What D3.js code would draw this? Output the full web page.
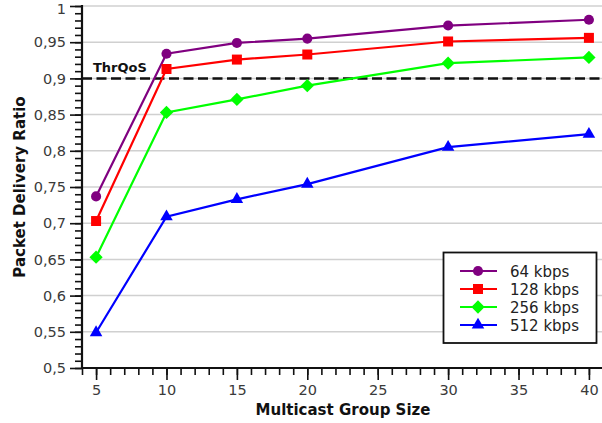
<!DOCTYPE html>
<html>
<head>
<meta charset="utf-8">
<script src="https://cdn.jsdelivr.net/npm/d3@7"></script>
<style>
  html, body { margin: 0; padding: 0; background: #fff; }
  svg { display: block; font-family: "DejaVu Sans", sans-serif; }
</style>
</head>
<body>
<svg id="chart" width="602" height="423"></svg>
<script>
// Multicast group sizes on the x axis
const groupSizes = [5, 10, 15, 20, 30, 40];

// Packet delivery ratio for each stream rate
const pdr64  = [0.737, 0.934, 0.949, 0.955, 0.973, 0.981];
const pdr128 = [0.703, 0.913, 0.926, 0.933, 0.951, 0.956];
const pdr256 = [0.653, 0.853, 0.871, 0.890, 0.921, 0.929];
const pdr512 = [0.549, 0.709, 0.733, 0.754, 0.805, 0.823];

const seriesNames = ["64 kbps", "128 kbps", "256 kbps", "512 kbps"];
const seriesColors = ["#800080", "#ff0000", "#00ff00", "#0000ff"];
const seriesSymbols = [d3.symbolCircle, d3.symbolSquare, d3.symbolSquare, d3.symbolTriangle];
const symbolSizes = [80, 100, 88, 68];
const symbolRotations = [0, 0, 45, 0];

const xTicks = [5, 10, 15, 20, 25, 30, 35, 40];
const yTicks = [0.5, 0.55, 0.6, 0.65, 0.7, 0.75, 0.8, 0.85, 0.9, 0.95, 1];
const thresholdValue = 0.9;
const thresholdLabel = "ThrQoS";

const series = [pdr64, pdr128, pdr256, pdr512].map((vals, i) => ({
  name: seriesNames[i],
  color: seriesColors[i],
  symbol: seriesSymbols[i],
  size: symbolSizes[i],
  rot: symbolRotations[i],
  points: groupSizes.map((g, j) => ({ x: g, y: vals[j] }))
}));

const svg = d3.select("#chart");
const plotLeft = 82, plotRight = 603, plotTop = 6, plotBottom = 368;

const x = d3.scaleLinear().domain([4, 41]).range([plotLeft, plotRight]);
const y = d3.scaleLinear().domain([0.5, 1]).range([plotBottom, plotTop]);

const fmt = v => String(+v.toFixed(2)).replace(".", ",");

// Horizontal grid lines
svg.append("g")
  .selectAll("line")
  .data(yTicks.filter(v => v > 0.5))
  .join("line")
  .attr("x1", plotLeft).attr("x2", plotRight)
  .attr("y1", d => y(d)).attr("y2", d => y(d))
  .attr("stroke", "#d0d0d0")
  .attr("stroke-width", 1.5);

// Threshold line
svg.append("line")
  .attr("x1", plotLeft).attr("x2", plotRight)
  .attr("y1", y(thresholdValue)).attr("y2", y(thresholdValue))
  .attr("stroke", "#111")
  .attr("stroke-width", 2.5)
  .attr("stroke-dasharray", "10,4.5");

svg.append("text")
  .attr("x", 93).attr("y", y(thresholdValue) - 6)
  .attr("font-size", 13).attr("font-weight", "bold")
  .attr("fill", "#111")
  .text(thresholdLabel);

// Minor ticks
const xMinor = d3.range(4, 42, 1);
const yMinor = d3.range(50, 101, 1).map(v => v / 100);

const xAxisG = svg.append("g").attr("transform", `translate(0,${plotBottom})`);
xAxisG.call(d3.axisBottom(x).tickValues(xMinor).tickSize(7).tickFormat(""))
  .call(g => g.select(".domain").remove());
xAxisG.append("g")
  .call(d3.axisBottom(x).tickValues(xTicks).tickSize(12).tickPadding(5).tickFormat(d => d))
  .call(g => g.select(".domain").remove());

const yAxisG = svg.append("g").attr("transform", `translate(${plotLeft},0)`);
yAxisG.call(d3.axisLeft(y).tickValues(yMinor).tickSize(7).tickFormat(""))
  .call(g => g.select(".domain").remove());
yAxisG.append("g")
  .call(d3.axisLeft(y).tickValues(yTicks).tickSize(12).tickPadding(4).tickFormat(fmt))
  .call(g => g.select(".domain").remove())
  // keep the top label inside the drawing area
  .call(g => g.selectAll(".tick text").filter(d => d === 1).attr("dy", "0.5em"));

svg.selectAll(".tick line").attr("stroke", "#111").attr("stroke-width", 1.6);
svg.selectAll(".tick text")
  .attr("font-family", "DejaVu Sans, sans-serif")
  .attr("font-size", 14.5)
  .attr("fill", "#3a3a3a");

// Axis lines
svg.append("line")
  .attr("x1", plotLeft).attr("x2", plotRight).attr("y1", plotBottom).attr("y2", plotBottom)
  .attr("stroke", "#111").attr("stroke-width", 2.2);
svg.append("line")
  .attr("x1", plotLeft).attr("x2", plotLeft).attr("y1", plotTop - 1).attr("y2", plotBottom + 1.1)
  .attr("stroke", "#111").attr("stroke-width", 2.2);

// Axis titles
svg.append("text")
  .attr("x", 343).attr("y", 415)
  .attr("text-anchor", "middle")
  .attr("font-size", 15).attr("font-weight", "bold")
  .attr("fill", "#111")
  .text("Multicast Group Size");

svg.append("text")
  .attr("transform", "translate(25,187) rotate(-90)")
  .attr("text-anchor", "middle")
  .attr("font-size", 15).attr("font-weight", "bold")
  .attr("fill", "#111")
  .text("Packet Delivery Ratio");

// Series lines and markers
const line = d3.line().x(d => x(d.x)).y(d => y(d.y));

series.forEach(s => {
  const g = svg.append("g");
  g.append("path")
    .datum(s.points)
    .attr("d", line)
    .attr("fill", "none")
    .attr("stroke", s.color)
    .attr("stroke-width", 2.2);
  g.selectAll("path.mark")
    .data(s.points)
    .join("path")
    .attr("class", "mark")
    .attr("transform", d => `translate(${x(d.x)},${y(d.y)}) rotate(${s.rot})`)
    .attr("d", d3.symbol().type(s.symbol).size(s.size))
    .attr("fill", s.color);
});

// Legend
const legend = svg.append("g");
legend.append("rect")
  .attr("x", 443.5).attr("y", 252.5)
  .attr("width", 153).attr("height", 90.5)
  .attr("fill", "#fff")
  .attr("stroke", "#111")
  .attr("stroke-width", 1.8);

series.forEach((s, i) => {
  const ry = 271 + i * 18;
  legend.append("line")
    .attr("x1", 460).attr("x2", 497)
    .attr("y1", ry).attr("y2", ry)
    .attr("stroke", s.color).attr("stroke-width", 2.2);
  legend.append("path")
    .attr("transform", `translate(478,${ry}) rotate(${s.rot})`)
    .attr("d", d3.symbol().type(s.symbol).size(s.size))
    .attr("fill", s.color);
  legend.append("text")
    .attr("x", 510).attr("y", ry + 5.5)
    .attr("font-size", 15)
    .attr("fill", "#222")
    .text(s.name);
});
</script>
</body>
</html>
